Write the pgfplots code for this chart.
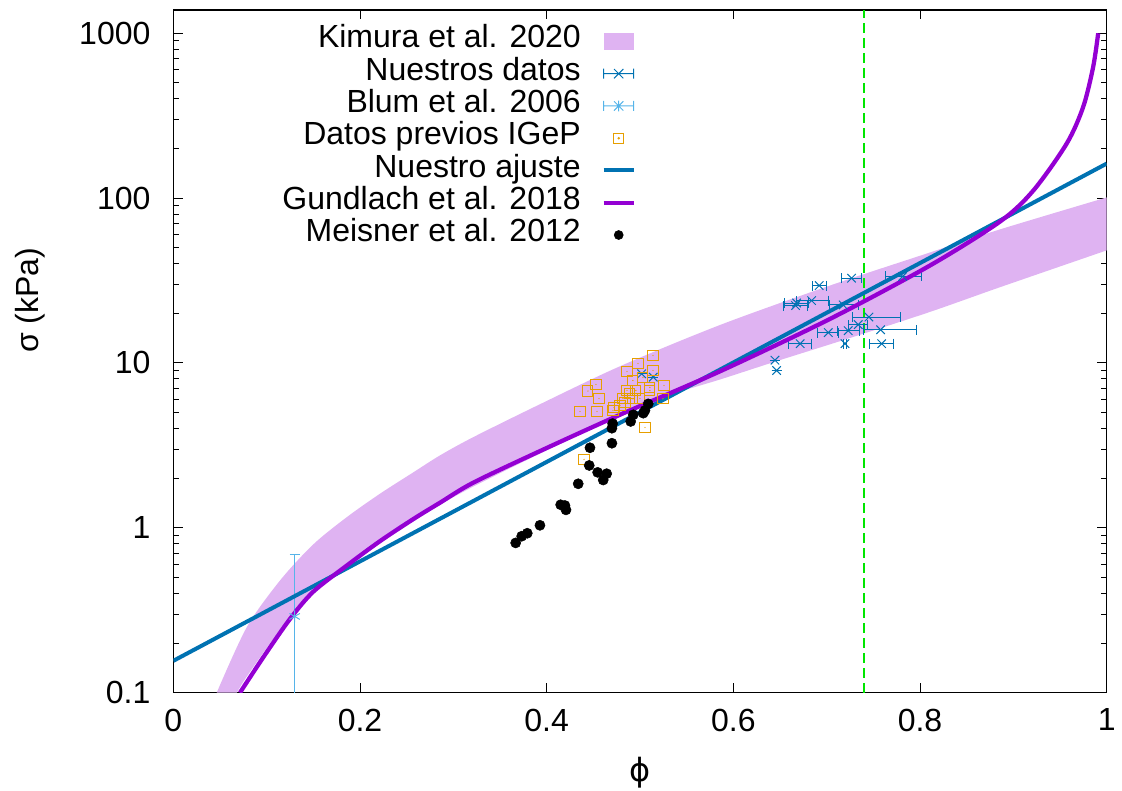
\documentclass[border=0pt]{standalone}
\usepackage{fontspec}
\setmainfont{Liberation Sans}
\newfontfamily\dejavu{DejaVu Sans}
\usepackage{pgfplots}
\usepackage{pgfplotstable}
\pgfplotsset{compat=1.18}
\usepgfplotslibrary{fillbetween}
\definecolor{cblue}{HTML}{0072B2}
\definecolor{clight}{HTML}{56B4E9}
\definecolor{corange}{HTML}{E69F00}
\definecolor{cpurple}{HTML}{9400D3}
\definecolor{cband}{RGB}{223,179,242}
\definecolor{cgreen}{HTML}{00E600}

\pgfdeclareplotmark{sqdot}{%
  \pgfpathrectangle{\pgfpoint{-\pgfplotmarksize}{-\pgfplotmarksize}}{\pgfpoint{2\pgfplotmarksize}{2\pgfplotmarksize}}%
  \pgfusepathqstroke
  \pgfpathcircle{\pgfpointorigin}{0.5pt}\pgfusepathqfill}

\pgfplotstableread{
x y ep em
0.6920 29.5 0.0077 0.0077
0.7267 32.7 0.0110 0.0110
0.7814 33.5 0.0203 0.0179
0.6678 23.1 0.0125 0.0125
0.6839 23.9 0.0180 0.0160
0.7177 22.5 0.0160 0.0150
0.7453 19.0 0.0340 0.0175
0.7338 17.1 0.0100 0.0100
0.7231 15.7 0.0120 0.0120
0.7017 15.3 0.0110 0.0110
0.7578 15.9 0.0380 0.0186
0.7196 13.1 0.0020 0.0020
0.6716 13.1 0.0125 0.0125
0.7589 13.1 0.0125 0.0125
0.6446 10.4 0 0
0.6464 9.0 0 0
0.6667 22.3 0.0125 0.0125
0.5018 8.6 0 0
0.5142 8.2 0 0
}\nuestros

\pgfplotstableread{
x y
0.4357 5.08
0.4539 5.08
0.4560 6.09
0.4442 6.76
0.4528 7.41
0.4400 2.60
0.5053 4.06
0.4721 5.37
0.4839 5.76
0.4860 6.81
0.4860 8.88
0.4978 9.93
0.5139 11.1
0.5139 9.01
0.5257 7.30
0.4956 6.81
0.4892 6.53
0.4999 6.09
0.5106 7.10
0.5106 6.81
0.4817 6.09
0.4924 7.83
0.5031 8.17
0.5246 6.06
0.4785 5.52
0.4924 6.06
0.4711 5.15
}\igep

\pgfplotstableread{
x y
0.3668 0.810
0.3732 0.889
0.3792 0.927
0.3928 1.036
0.4150 1.38
0.4196 1.365
0.4207 1.285
0.4338 1.85
0.4456 2.39
0.4464 3.06
0.4546 2.17
0.4606 1.95
0.4643 2.13
0.4699 3.26
0.4699 4.02
0.4707 4.29
0.4900 4.42
0.4928 4.85
0.5035 4.96
0.5053 5.15
0.5088 5.65
}\meisner

\pgfplotstableread{
x y
0.0465 0.1
0.0786 0.249
0.1143 0.479
0.1500 0.794
0.1858 1.16
0.2214 1.61
0.2571 2.17
0.2857 2.75
0.3214 3.55
0.3928 5.62
0.4785 9.55
0.5857 17.0
0.7035 29.5
0.8106 46.8
0.8856 64.6
1.0000 101
}\kimup

\pgfplotstableread{
x y
0.0680 0.1
0.0786 0.125
0.1143 0.24
0.1500 0.398
0.1858 0.58
0.2214 0.805
0.2571 1.09
0.2857 1.38
0.3214 1.78
0.3928 2.82
0.4785 4.79
0.5226 6.17
0.5857 7.94
0.6450 10.2
0.7237 14.1
0.8106 20.4
0.8856 28.8
1.0000 48.2
}\kimlo

\pgfplotstableread{
x y
0.0714 0.100
0.0964 0.164
0.1250 0.28
0.1500 0.41
0.1858 0.59
0.2214 0.83
0.2571 1.13
0.2857 1.42
0.3214 1.88
0.3928 2.92
0.4785 4.85
0.5857 8.9
0.7035 18.5
0.8106 39
0.8856 72
0.9213 111
0.9571 214
0.9748 357
0.9855 624
0.9909 1000
}\gundlach

\begin{document}
\begin{tikzpicture}
\begin{axis}[
  name=ax,
  scale only axis,
  width=700pt, height=512pt,
  xmin=0, xmax=1,
  ymode=log, ymin=0.1, ymax=1385,
  font=\fontsize{24}{28.8}\selectfont,
  /pgf/number format/assume math mode=true,
  xtick={0,0.2,0.4,0.6,0.8,1},
  xticklabels={0,0.2,0.4,0.6,0.8,1},
  ytick={0.1,1,10,100,1000},
  yticklabels={0.1,1,10,100,1000},
  minor ytick={0.2,0.3,0.4,0.5,0.6,0.7,0.8,0.9,2,3,4,5,6,7,8,9,20,30,40,50,60,70,80,90,200,300,400,500,600,700,800,900},
  tick align=inside,
  major tick length=7pt, minor tick length=4pt,
  tick style={black, line width=0.75pt},
  axis line style={line width=1pt},
  xticklabel style={inner sep=0pt, yshift=-12pt},
  yticklabel style={inner sep=0pt, xshift=-17pt},
  every axis y label/.style={at={(axis description cs:-0.1536,0.575)}, rotate=90, anchor=center},
  every axis x label/.style={at={(axis description cs:0.5,-0.1176)}, anchor=center},
  xlabel={{\dejavu ϕ}},
  ylabel={σ (kPa)},
  legend style={at={(axis description cs:0.4957,0.978)}, anchor=north east,
    draw=none, fill=none, inner sep=0pt, row sep=0pt, column sep=15.75pt,
    nodes={inner sep=0pt, text height=17pt, text depth=7.2pt}},
  legend cell align=right,
  legend plot pos=right,
]
\addplot[name path=kup, draw=none, forget plot, smooth] table[x=x,y=y] {\kimup};
\addplot[name path=klo, draw=none, forget plot, smooth] table[x=x,y=y] {\kimlo};
\addplot[fill=cband, draw=none,
  legend image code/.code={\fill[cband] (0pt,-6.4pt) rectangle (22.5pt,6.4pt);}]
  fill between[of=kup and klo];
\addlegendentry{Kimura et al. 2020}

\addplot[forget plot, cgreen, line width=1.2pt, dash pattern=on 7.5pt off 3.75pt]
  coordinates {(0.74,0.1) (0.74,1385)};

\addplot[only marks, mark=x, cblue, mark size=4.5pt, line width=0.75pt,
  error bars/.cd, x dir=both, x explicit,
  error bar style={cblue, line width=0.75pt},
  error mark options={rotate=90, cblue, mark size=3.75pt, line width=0.75pt},
  /pgfplots/legend image code/.code={%
    \draw[cblue, line width=0.75pt] (0pt,0pt)--(22.5pt,0pt)
      (0pt,-3.75pt)--(0pt,3.75pt) (22.5pt,-3.75pt)--(22.5pt,3.75pt)
      (7.75pt,-3.5pt)--(14.75pt,3.5pt) (7.75pt,3.5pt)--(14.75pt,-3.5pt);}]
  table[x=x, y=y, x error plus=ep, x error minus=em] {\nuestros};
\addlegendentry{Nuestros datos}

\addplot[only marks, mark=asterisk, clight, mark size=4.5pt, line width=0.75pt,
  error bars/.cd, y dir=both, y explicit,
  error bar style={clight, line width=0.75pt},
  error mark options={rotate=90, clight, mark size=3.75pt, line width=0.75pt},
  /pgfplots/legend image code/.code={%
    \draw[clight, line width=0.75pt] (0pt,0pt)--(22.5pt,0pt)
      (0pt,-3.75pt)--(0pt,3.75pt) (22.5pt,-3.75pt)--(22.5pt,3.75pt)
      (7.75pt,-3.5pt)--(14.75pt,3.5pt) (7.75pt,3.5pt)--(14.75pt,-3.5pt)
      (11.25pt,-4pt)--(11.25pt,4pt);}]
  coordinates {(0.13,0.29) += (0,0.40) -= (0,0.28)};
\addlegendentry{Blum et al. 2006}

\addplot[only marks, mark=sqdot, corange, mark size=3.8pt, line width=0.75pt,
  legend image code/.code={\draw[corange, line width=0.75pt] (7.65pt,-3.6pt) rectangle (14.85pt,3.6pt); \fill[corange] (11.25pt,0pt) circle (0.5pt);}]
  table[x=x,y=y] {\igep};
\addlegendentry{Datos previos IGeP}

\addplot[cblue, line width=3pt,
  legend image code/.code={\draw[cblue, line width=3pt] (0pt,0pt)--(22.5pt,0pt);}]
  coordinates {(0,0.156) (1,162)};
\addlegendentry{Nuestro ajuste}

\addplot[cpurple, line width=3.2pt, smooth, line join=round,
  legend image code/.code={\draw[cpurple, line width=3pt] (0pt,0pt)--(22.5pt,0pt);}]
  table[x=x,y=y] {\gundlach};
\addlegendentry{Gundlach et al. 2018}

\addplot[only marks, mark=*, black, mark size=3.8pt,
  legend image code/.code={\fill[black] (11.25pt,0pt) circle (3.4pt);}]
  table[x=x,y=y] {\meisner};
\addlegendentry{Meisner et al. 2012}
\end{axis}
\pgfresetboundingbox
\path[use as bounding box] ([xshift=-130pt,yshift=-73.7pt]ax.south west) rectangle ([xshift=11.5pt,yshift=7.5pt]ax.north east);
\end{tikzpicture}
\end{document}
